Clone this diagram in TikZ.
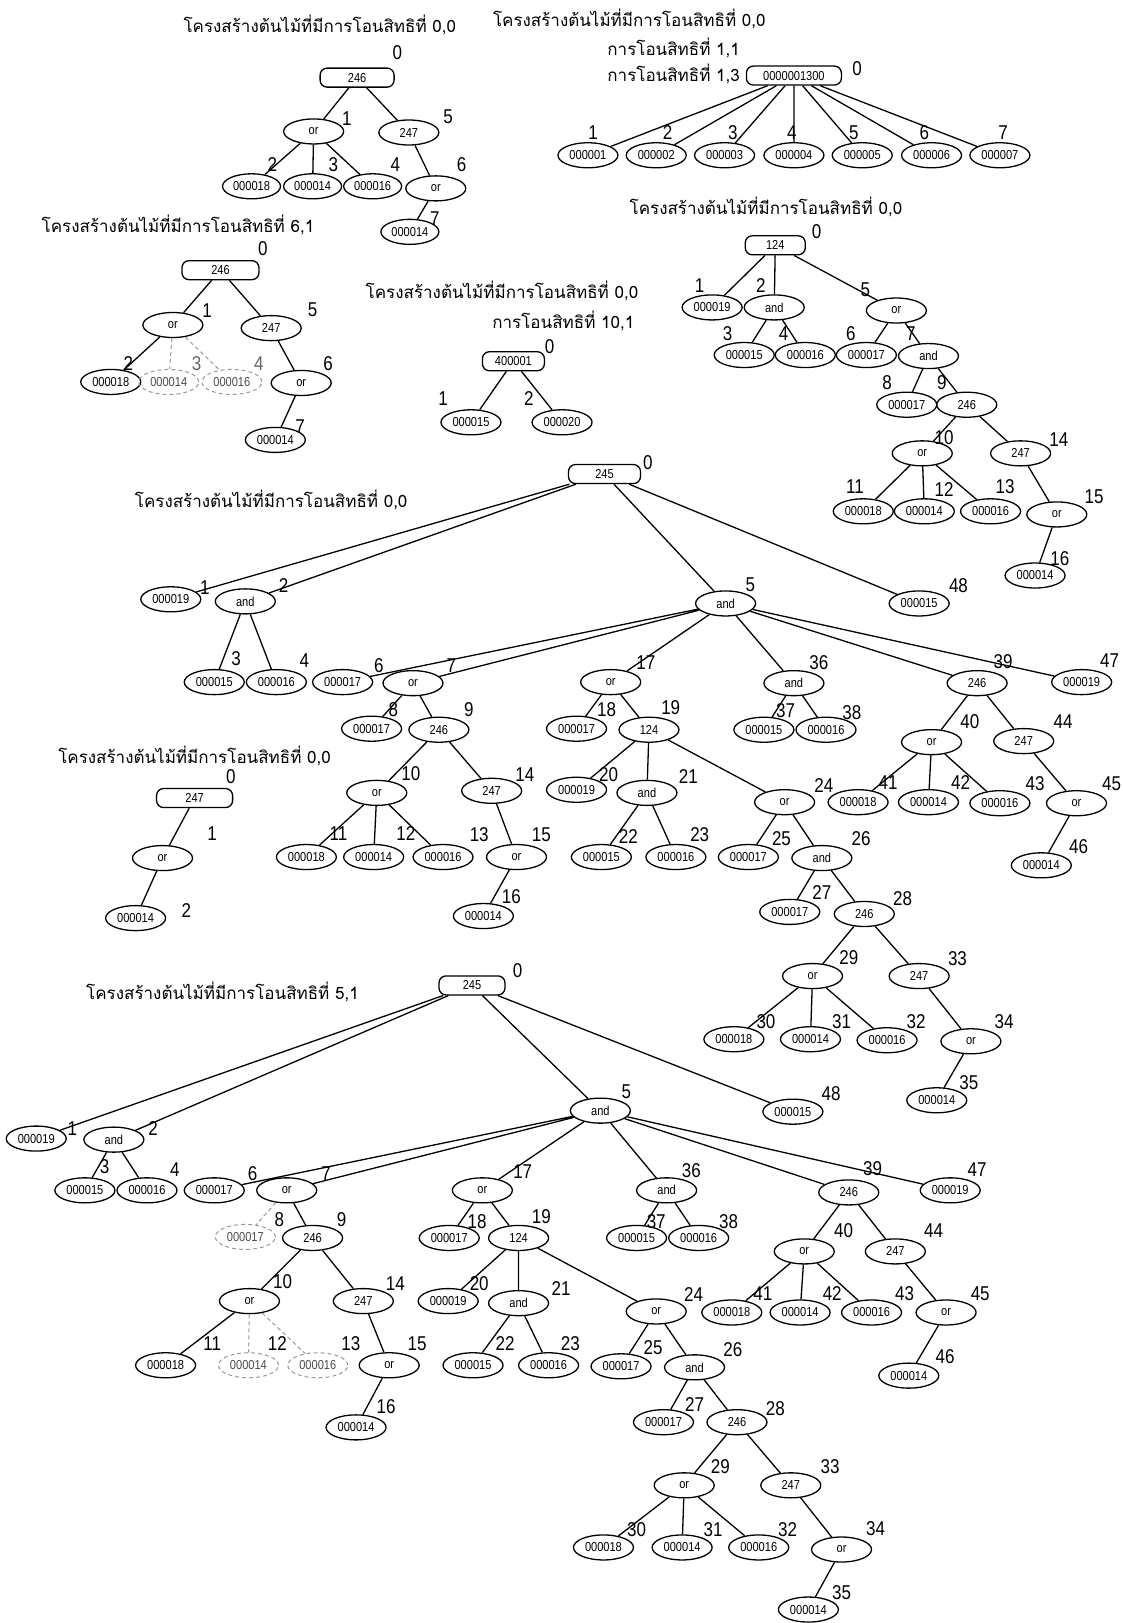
\documentclass[tikz,border=0pt]{standalone}
\usepackage{fontspec}
\setmainfont{Liberation Sans}
\newfontfamily\thaifont[Script=Thai]{Loma}
\newfontfamily\narrowfont[FakeStretch=0.85]{Liberation Sans}
\usetikzlibrary{shapes.geometric}
\tikzset{
  rbox/.style={draw,rectangle,rounded corners=7pt,line width=1.3pt,minimum height=19pt,inner sep=1pt,
    font=\narrowfont\fontsize{13}{13}\selectfont},
  ov/.style={draw,ellipse,line width=1.3pt,minimum width=60pt,minimum height=25pt,inner sep=0pt,
    font=\narrowfont\fontsize{13}{13}\selectfont},
  dov/.style={ov,draw=black!40,line width=1pt,dash pattern=on 4pt off 3pt,text=black!70},
  num/.style={font=\narrowfont\fontsize{20}{20}\selectfont,inner sep=0pt},
  ttl/.style={font=\thaifont\fontsize{17}{20}\selectfont,inner sep=0pt},
  br/.style={line width=1.3pt},
  dbr/.style={line width=1pt,black!40,dash pattern=on 4pt off 3pt},
}
\begin{document}
\begin{tikzpicture}[x=1.035pt,y=-1.035pt]
  \useasboundingbox (0,0) rectangle (1084,1568);
  % tree 246, 0,0
  \node[ttl] (ta) at (309,24) {โครงสร้างต้นไม้ที่มีการโอนสิทธิที่ 0,0};
  \node[rbox,minimum width=74pt] (a0) at (345,75) {246}; \node[num] (a0l) at (384,51) {0};
  \node[ov] (a1) at (303,127) {or};     \node[num] (a1l) at (335,115) {1};
  \node[ov] (a5) at (395,128) {247};    \node[num] (a5l) at (433,113) {5};
  \node[ov,minimum width=58pt] (a2) at (243,180) {000018}; \node[num] (a2l) at (263,159) {2};
  \node[ov,minimum width=58pt] (a3) at (302,180) {000014}; \node[num] (a3l) at (322,159) {3};
  \node[ov,minimum width=58pt] (a4) at (360,180) {000016}; \node[num] (a4l) at (382,159) {4};
  \node[ov] (a6) at (421,182) {or};     \node[num] (a6l) at (446,159) {6};
  \node[ov,minimum width=58pt] (a7) at (396,224) {000014}; \node[num] (a7l) at (420,211) {7};
  \draw[br] (a0)--(a1) (a0)--(a5) (a1)--(a2) (a1)--(a3) (a1)--(a4) (a5)--(a6) (a6)--(a7);

  % tree 0000001300
  \node[ttl] (tb1) at (608,18) {โครงสร้างต้นไม้ที่มีการโอนสิทธิที่ 0,0};
  \node[ttl,anchor=east] (tb2) at (715,46) {การโอนสิทธิที่ 1,1};
  \node[ttl,anchor=east] (tb3) at (715,71) {การโอนสิทธิที่ 1,3};
  \node[rbox,minimum width=95pt] (b0) at (767,73) {0000001300}; \node[num] (b0l) at (828,66) {0};
  \node[ov] (b1) at (568,150) {000001}; \node[num] (b1l) at (573,128) {1};
  \node[ov] (b2) at (634,150) {000002}; \node[num] (b2l) at (645,128) {2};
  \node[ov] (b3) at (700,150) {000003}; \node[num] (b3l) at (708,128) {3};
  \node[ov] (b4) at (767,150) {000004}; \node[num] (b4l) at (765,128) {4};
  \node[ov] (b5) at (833,150) {000005}; \node[num] (b5l) at (825,128) {5};
  \node[ov] (b6) at (900,150) {000006}; \node[num] (b6l) at (893,128) {6};
  \node[ov] (b7) at (966,150) {000007}; \node[num] (b7l) at (969,128) {7};
  \draw[br] (b0)--(b1) (b0)--(b2) (b0)--(b3) (b0)--(b4) (b0)--(b5) (b0)--(b6) (b0)--(b7);

  % tree 246, 6,1
  \node[ttl] (tc) at (172,217) {โครงสร้างต้นไม้ที่มีการโอนสิทธิที่ 6,1};
  \node[rbox,minimum width=77pt] (c0) at (213,261) {246}; \node[num] (c0l) at (254,240) {0};
  \node[ov] (c1) at (167,314) {or};      \node[num] (c1l) at (200,300) {1};
  \node[ov] (c5) at (262,317) {247};     \node[num] (c5l) at (302,299) {5};
  \node[ov] (c2) at (107,369) {000018};  \node[num] (c2l) at (124,351) {2};
  \node[dov] (c3) at (163,369) {000014}; \node[num,text=black!60] (c3l) at (190,351) {3};
  \node[dov] (c4) at (224,369) {000016}; \node[num,text=black!60] (c4l) at (250,351) {4};
  \node[ov] (c6) at (291,370) {or};      \node[num] (c6l) at (317,351) {6};
  \node[ov] (c7) at (266,425) {000014};  \node[num] (c7l) at (290,412) {7};
  \draw[br] (c0)--(c1) (c0)--(c5) (c1)--(c2) (c5)--(c6) (c6)--(c7);
  \draw[dbr] (c1)--(c3) (c1)--(c4);

  % tree 400001
  \node[ttl] (td1) at (485,281) {โครงสร้างต้นไม้ที่มีการโอนสิทธิที่ 0,0};
  \node[ttl,anchor=east] (td2) at (613,310) {การโอนสิทธิที่ 10,1};
  \node[rbox,minimum width=62pt] (d0) at (496,349) {400001}; \node[num] (d0l) at (531,335) {0};
  \node[ov] (d1) at (455,408) {000015}; \node[num] (d1l) at (428,385) {1};
  \node[ov] (d2) at (543,408) {000020}; \node[num] (d2l) at (511,385) {2};
  \draw[br] (d0)--(d1) (d0)--(d2);

  % tree 124
  \node[ttl] (te) at (740,200) {โครงสร้างต้นไม้ที่มีการโอนสิทธิที่ 0,0};
  \node[rbox,minimum width=60pt] (e0) at (749,237) {124}; \node[num] (e0l) at (789,224) {0};
  \node[ov] (e1) at (688,297) {000019};  \node[num] (e1l) at (676,276) {1};
  \node[ov] (e2) at (748,297) {and};     \node[num] (e2l) at (735,276) {2};
  \node[ov] (e5) at (866,300) {or};      \node[num] (e5l) at (836,280) {5};
  \node[ov] (e3) at (719,343) {000015};  \node[num] (e3l) at (703,322) {3};
  \node[ov] (e4) at (778,343) {000016};  \node[num] (e4l) at (757,322) {4};
  \node[ov] (e6) at (837,343) {000017};  \node[num] (e6l) at (822,322) {6};
  \node[ov] (e7) at (897,344) {and};     \node[num] (e7l) at (880,322) {7};
  \node[ov] (e8) at (876,391) {000017};  \node[num] (e8l) at (857,370) {8};
  \node[ov] (e9) at (934,391) {246};     \node[num] (e9l) at (910,370) {9};
  \node[ov] (e10) at (891,438) {or};     \node[num] (e10l) at (912,423) {10};
  \node[ov] (e14) at (986,438) {247};    \node[num] (e14l) at (1023,425) {14};
  \node[ov] (e11) at (834,494) {000018}; \node[num] (e11l) at (826,470) {11};
  \node[ov] (e12) at (893,494) {000014}; \node[num] (e12l) at (912,473) {12};
  \node[ov] (e13) at (957,494) {000016}; \node[num] (e13l) at (971,470) {13};
  \node[ov] (e15) at (1021,497) {or};    \node[num] (e15l) at (1057,480) {15};
  \node[ov] (e16) at (1000,556) {000014}; \node[num] (e16l) at (1024,540) {16};
  \draw[br] (e0)--(e1) (e0)--(e2) (e0)--(e5) (e2)--(e3) (e2)--(e4) (e5)--(e6) (e5)--(e7)
    (e7)--(e8) (e7)--(e9) (e9)--(e10) (e9)--(e14) (e10)--(e11) (e10)--(e12) (e10)--(e13)
    (e14)--(e15) (e15)--(e16);

  % tree 245, 0,0
  \node[ttl] (tf) at (262,483) {โครงสร้างต้นไม้ที่มีการโอนสิทธิที่ 0,0};
  \node[rbox,minimum width=72pt] (f0) at (584,458) {245}; \node[num] (f0l) at (626,447) {0};
  \node[ov] (f1) at (165,579) {000019};  \node[num] (f1l) at (198,568) {1};
  \node[ov] (f2) at (237,581) {and};     \node[num] (f2l) at (274,566) {2};
  \node[ov] (f5) at (701,583) {and};     \node[num] (f5l) at (725,565) {5};
  \node[ov] (f48) at (888,583) {000015}; \node[num] (f48l) at (926,566) {48};
  \node[ov] (f3) at (207,659) {000015};  \node[num] (f3l) at (228,636) {3};
  \node[ov] (f4) at (267,659) {000016};  \node[num] (f4l) at (294,638) {4};
  \node[ov] (f6) at (331,659) {000017};  \node[num] (f6l) at (366,643) {6};
  \node[ov] (f7) at (399,660) {or};      \node[num] (f7l) at (436,643) {7};
  \node[ov] (f17) at (590,659) {or};     \node[num] (f17l) at (624,640) {17};
  \node[ov] (f36) at (767,660) {and};    \node[num] (f36l) at (791,640) {36};
  \node[ov] (f39) at (944,660) {246};    \node[num] (f39l) at (969,639) {39};
  \node[ov] (f47) at (1045,659) {000019}; \node[num] (f47l) at (1072,638) {47};
  \node[ov] (f8) at (359,704) {000017};  \node[num] (f8l) at (380,686) {8};
  \node[ov] (f9) at (424,705) {246};     \node[num] (f9l) at (453,686) {9};
  \node[ov] (f18) at (557,704) {000017}; \node[num] (f18l) at (586,686) {18};
  \node[ov] (f19) at (627,705) {124};    \node[num] (f19l) at (648,684) {19};
  \node[ov] (f37) at (738,705) {000015}; \node[num] (f37l) at (759,687) {37};
  \node[ov] (f38) at (798,705) {000016}; \node[num] (f38l) at (823,688) {38};
  \node[ov] (f40) at (900,717) {or};     \node[num] (f40l) at (937,697) {40};
  \node[ov] (f44) at (989,716) {247};    \node[num] (f44l) at (1027,697) {44};
  \node[ov] (f10) at (364,766) {or};     \node[num] (f10l) at (397,747) {10};
  \node[ov] (f14) at (475,764) {247};    \node[num] (f14l) at (507,748) {14};
  \node[ov] (f20) at (557,763) {000019}; \node[num] (f20l) at (588,748) {20};
  \node[ov] (f21) at (625,766) {and};    \node[num] (f21l) at (665,750) {21};
  \node[ov] (f24) at (758,775) {or};     \node[num] (f24l) at (796,759) {24};
  \node[ov] (f41) at (829,775) {000018}; \node[num] (f41l) at (858,756) {41};
  \node[ov] (f42) at (897,775) {000014}; \node[num] (f42l) at (928,756) {42};
  \node[ov] (f43) at (966,776) {000016}; \node[num] (f43l) at (1000,757) {43};
  \node[ov] (f45) at (1040,776) {or};    \node[num] (f45l) at (1074,757) {45};
  \node[ov] (f11) at (296,828) {000018}; \node[num] (f11l) at (327,805) {11};
  \node[ov] (f12) at (361,828) {000014}; \node[num] (f12l) at (392,805) {12};
  \node[ov] (f13) at (428,828) {000016}; \node[num] (f13l) at (463,806) {13};
  \node[ov] (f15) at (499,828) {or};     \node[num] (f15l) at (523,806) {15};
  \node[ov] (f22) at (581,828) {000015}; \node[num] (f22l) at (607,808) {22};
  \node[ov] (f23) at (653,828) {000016}; \node[num] (f23l) at (676,806) {23};
  \node[ov] (f25) at (723,828) {000017}; \node[num] (f25l) at (755,810) {25};
  \node[ov] (f26) at (794,829) {and};    \node[num] (f26l) at (832,810) {26};
  \node[ov] (f46) at (1006,836) {000014}; \node[num] (f46l) at (1042,818) {46};
  \node[ov] (f16) at (467,885) {000014}; \node[num] (f16l) at (494,866) {16};
  \node[ov] (f27) at (763,881) {000017}; \node[num] (f27l) at (794,862) {27};
  \node[ov] (f28) at (835,883) {246};    \node[num] (f28l) at (872,868) {28};
  \node[ov] (f29) at (785,943) {or};     \node[num] (f29l) at (820,925) {29};
  \node[ov] (f33) at (888,943) {247};    \node[num] (f33l) at (925,926) {33};
  \node[ov] (f30) at (709,1004) {000018}; \node[num] (f30l) at (740,987) {30};
  \node[ov] (f31) at (783,1004) {000014}; \node[num] (f31l) at (813,987) {31};
  \node[ov] (f32) at (857,1005) {000016}; \node[num] (f32l) at (885,987) {32};
  \node[ov] (f34) at (938,1006) {or};    \node[num] (f34l) at (970,987) {34};
  \node[ov] (f35) at (905,1063) {000014}; \node[num] (f35l) at (936,1046) {35};
  \draw[br] (f0)--(f1) (f0)--(f2) (f0)--(f5) (f0)--(f48) (f2)--(f3) (f2)--(f4)
    (f5)--(f6) (f5)--(f7) (f5)--(f17) (f5)--(f36) (f5)--(f39) (f5)--(f47)
    (f7)--(f8) (f7)--(f9) (f9)--(f10) (f9)--(f14) (f10)--(f11) (f10)--(f12) (f10)--(f13)
    (f14)--(f15) (f15)--(f16) (f17)--(f18) (f17)--(f19) (f19)--(f20) (f19)--(f21) (f19)--(f24)
    (f21)--(f22) (f21)--(f23) (f24)--(f25) (f24)--(f26) (f26)--(f27) (f26)--(f28)
    (f28)--(f29) (f28)--(f33) (f29)--(f30) (f29)--(f31) (f29)--(f32) (f33)--(f34) (f34)--(f35)
    (f36)--(f37) (f36)--(f38) (f39)--(f40) (f39)--(f44) (f40)--(f41) (f40)--(f42) (f40)--(f43)
    (f44)--(f45) (f45)--(f46);

  % tree 247
  \node[ttl] (tg) at (188,730) {โครงสร้างต้นไม้ที่มีการโอนสิทธิที่ 0,0};
  \node[rbox,minimum width=76pt] (g0) at (188,771) {247}; \node[num] (g0l) at (223,750) {0};
  \node[ov] (g1) at (157,829) {or};     \node[num] (g1l) at (205,805) {1};
  \node[ov] (g2) at (131,887) {000014}; \node[num] (g2l) at (180,880) {2};
  \draw[br] (g0)--(g1) (g1)--(g2);

  % tree 245, 5,1
  \node[ttl] (th) at (215,958) {โครงสร้างต้นไม้ที่มีการโอนสิทธิที่ 5,1};
  \node[rbox,minimum width=66pt] (h0) at (456,952) {245}; \node[num] (h0l) at (500,938) {0};
  \node[ov] (h1) at (35,1100) {000019};  \node[num] (h1l) at (70,1090) {1};
  \node[ov] (h2) at (110,1101) {and};    \node[num] (h2l) at (148,1090) {2};
  \node[ov] (h5) at (580,1073) {and};    \node[num] (h5l) at (605,1055) {5};
  \node[ov] (h48) at (766,1074) {000015}; \node[num] (h48l) at (803,1057) {48};
  \node[ov] (h3) at (82,1150) {000015};  \node[num] (h3l) at (101,1127) {3};
  \node[ov] (h4) at (142,1150) {000016}; \node[num] (h4l) at (169,1130) {4};
  \node[ov] (h6) at (207,1150) {000017}; \node[num] (h6l) at (244,1134) {6};
  \node[ov] (h7) at (277,1150) {or};     \node[num] (h7l) at (315,1134) {7};
  \node[ov] (h17) at (466,1150) {or};    \node[num] (h17l) at (505,1132) {17};
  \node[ov] (h36) at (644,1150) {and};   \node[num] (h36l) at (668,1131) {36};
  \node[ov] (h39) at (820,1152) {246};   \node[num] (h39l) at (843,1129) {39};
  \node[ov] (h47) at (918,1150) {000019}; \node[num] (h47l) at (944,1130) {47};
  \node[dov] (h8) at (237,1195) {000017}; \node[num] (h8l) at (270,1178) {8};
  \node[ov] (h9) at (302,1196) {246};    \node[num] (h9l) at (330,1178) {9};
  \node[ov] (h18) at (434,1196) {000017}; \node[num] (h18l) at (461,1180) {18};
  \node[ov] (h19) at (501,1196) {124};   \node[num] (h19l) at (523,1175) {19};
  \node[ov] (h37) at (615,1196) {000015}; \node[num] (h37l) at (634,1180) {37};
  \node[ov] (h38) at (675,1196) {000016}; \node[num] (h38l) at (704,1180) {38};
  \node[ov] (h40) at (777,1209) {or};    \node[num] (h40l) at (815,1189) {40};
  \node[ov] (h44) at (865,1209) {247};   \node[num] (h44l) at (902,1189) {44};
  \node[ov] (h10) at (241,1257) {or};    \node[num] (h10l) at (273,1238) {10};
  \node[ov] (h14) at (351,1257) {247};   \node[num] (h14l) at (382,1240) {14};
  \node[ov] (h20) at (433,1257) {000019}; \node[num] (h20l) at (463,1240) {20};
  \node[ov] (h21) at (501,1259) {and};   \node[num] (h21l) at (542,1245) {21};
  \node[ov] (h24) at (634,1267) {or};    \node[num] (h24l) at (670,1251) {24};
  \node[ov] (h41) at (707,1268) {000018}; \node[num] (h41l) at (737,1250) {41};
  \node[ov] (h42) at (773,1268) {000014}; \node[num] (h42l) at (804,1250) {42};
  \node[ov] (h43) at (842,1268) {000016}; \node[num] (h43l) at (874,1250) {43};
  \node[ov] (h45) at (914,1268) {or};    \node[num] (h45l) at (947,1250) {45};
  \node[ov] (h11) at (160,1319) {000018}; \node[num] (h11l) at (205,1298) {11};
  \node[dov] (h12) at (240,1319) {000014}; \node[num] (h12l) at (268,1298) {12};
  \node[dov] (h13) at (307,1319) {000016}; \node[num] (h13l) at (339,1298) {13};
  \node[ov] (h15) at (376,1319) {or};    \node[num] (h15l) at (403,1298) {15};
  \node[ov] (h22) at (457,1319) {000015}; \node[num] (h22l) at (488,1298) {22};
  \node[ov] (h23) at (530,1319) {000016}; \node[num] (h23l) at (551,1298) {23};
  \node[ov] (h25) at (600,1320) {000017}; \node[num] (h25l) at (631,1302) {25};
  \node[ov] (h26) at (671,1321) {and};   \node[num] (h26l) at (708,1304) {26};
  \node[ov] (h46) at (878,1329) {000014}; \node[num] (h46l) at (913,1311) {46};
  \node[ov] (h16) at (344,1379) {000014}; \node[num] (h16l) at (373,1359) {16};
  \node[ov] (h27) at (641,1374) {000017}; \node[num] (h27l) at (671,1357) {27};
  \node[ov] (h28) at (712,1374) {246};   \node[num] (h28l) at (749,1361) {28};
  \node[ov] (h29) at (661,1435) {or};    \node[num] (h29l) at (696,1417) {29};
  \node[ov] (h33) at (764,1435) {247};   \node[num] (h33l) at (802,1417) {33};
  \node[ov] (h30) at (583,1495) {000018}; \node[num] (h30l) at (615,1478) {30};
  \node[ov] (h31) at (659,1495) {000014}; \node[num] (h31l) at (689,1478) {31};
  \node[ov] (h32) at (733,1495) {000016}; \node[num] (h32l) at (761,1478) {32};
  \node[ov] (h34) at (813,1497) {or};    \node[num] (h34l) at (846,1477) {34};
  \node[ov] (h35) at (781,1555) {000014}; \node[num] (h35l) at (813,1539) {35};
  \draw[br] (h0)--(h1) (h0)--(h2) (h0)--(h5) (h0)--(h48) (h2)--(h3) (h2)--(h4)
    (h5)--(h6) (h5)--(h7) (h5)--(h17) (h5)--(h36) (h5)--(h39) (h5)--(h47)
    (h7)--(h9) (h9)--(h10) (h9)--(h14) (h10)--(h11)
    (h14)--(h15) (h15)--(h16) (h17)--(h18) (h17)--(h19) (h19)--(h20) (h19)--(h21) (h19)--(h24)
    (h21)--(h22) (h21)--(h23) (h24)--(h25) (h24)--(h26) (h26)--(h27) (h26)--(h28)
    (h28)--(h29) (h28)--(h33) (h29)--(h30) (h29)--(h31) (h29)--(h32) (h33)--(h34) (h34)--(h35)
    (h36)--(h37) (h36)--(h38) (h39)--(h40) (h39)--(h44) (h40)--(h41) (h40)--(h42) (h40)--(h43)
    (h44)--(h45) (h45)--(h46);
  \draw[dbr] (h7)--(h8) (h10)--(h12) (h10)--(h13);
\end{tikzpicture}
\end{document}
